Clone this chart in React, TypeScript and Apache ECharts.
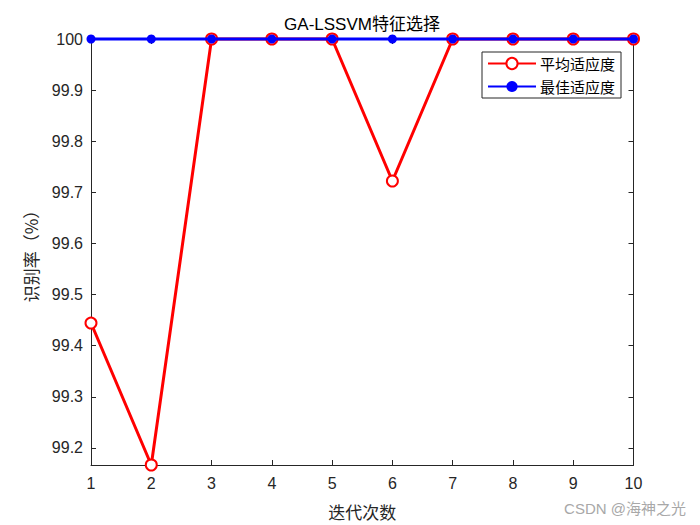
import React, { useEffect, useRef } from "react";
import * as echarts from "echarts";

const iterations = [1, 2, 3, 4, 5, 6, 7, 8, 9, 10];
const avgFitness = [99.4444, 99.1667, 100, 100, 100, 99.7222, 100, 100, 100, 100];
const bestFitness = [100, 100, 100, 100, 100, 100, 100, 100, 100, 100];
const seriesNames = ["平均适应度", "最佳适应度"];
const titleText = "GA-LSSVM特征选择";
const xName = "迭代次数";
const yName = "识别率（%）";
const watermark = "CSDN @海神之光";

const FONT = "'Liberation Sans', Arial, 'Noto Sans CJK SC', sans-serif";
const CJK = "'Noto Sans CJK SC', sans-serif";
const AX = "#262626";

export default function App() {
  const ref = useRef<HTMLDivElement>(null);
  useEffect(() => {
    if (!ref.current) return;
    const chart = echarts.init(ref.current, undefined, { renderer: "svg" });
    const fmtY = (v: number) =>
      Math.abs(v * 10 - Math.round(v * 10)) < 1e-6 ? String(+v.toFixed(1)) : "";
    const yMin = Math.min(...avgFitness, ...bestFitness);
    const yMax = Math.max(...avgFitness, ...bestFitness);
    chart.setOption({
      animation: false,
      backgroundColor: "#ffffff",
      grid: { left: 91, right: 66.5, top: 39, bottom: 58, containLabel: false },
      graphic: [
        {
          type: "text",
          x: 362,
          y: 24,
          style: {
            text: titleText,
            fontSize: 17,
            fontFamily: FONT,
            fill: "#000",
            textAlign: "center",
            textVerticalAlign: "middle",
          },
        },
        {
          type: "text",
          x: 686,
          y: 508,
          style: {
            text: watermark,
            fontSize: 15,
            fontFamily: FONT,
            fill: "#a8a8a8",
            textAlign: "right",
            textVerticalAlign: "middle",
          },
        },
      ],
      legend: {
        orient: "vertical",
        left: 482,
        top: 52,
        backgroundColor: "#fff",
        borderColor: AX,
        borderWidth: 1,
        borderRadius: 0,
        padding: [4, 6, 4, 5],
        itemWidth: 48,
        itemHeight: 14,
        itemGap: 8,
        textStyle: { fontSize: 15, fontFamily: CJK, color: "#000", padding: [0, 0, 0, -1] },
        data: seriesNames,
      },
      xAxis: [
        {
          type: "value",
          min: 1,
          max: 10,
          interval: 1,
          name: xName,
          nameLocation: "middle",
          nameGap: 38,
          nameTextStyle: { fontSize: 17, fontFamily: CJK, color: AX },
          axisLine: { show: true, lineStyle: { color: AX, width: 1 } },
          axisTick: { show: true, inside: true, length: 5, lineStyle: { color: AX } },
          axisLabel: { fontSize: 16, fontFamily: FONT, color: AX, margin: 10 },
          splitLine: { show: false },
        },
        {
          type: "value",
          position: "top",
          min: 1,
          max: 10,
          interval: 1,
          axisLine: { show: true, lineStyle: { color: AX, width: 1 } },
          axisTick: { show: true, inside: true, length: 5, lineStyle: { color: AX } },
          axisLabel: { show: false },
          splitLine: { show: false },
        },
      ],
      yAxis: [
        {
          type: "value",
          min: yMin,
          max: yMax,
          splitNumber: 8,
          minInterval: 0.1,
          maxInterval: 0.1,
          name: yName,
          nameLocation: "middle",
          nameGap: 52,
          nameTextStyle: { fontSize: 17, fontFamily: CJK, color: AX },
          axisLine: { show: true, lineStyle: { color: AX, width: 1 } },
          axisTick: { show: true, inside: true, length: 5, lineStyle: { color: AX } },
          axisLabel: { fontSize: 16, fontFamily: FONT, color: AX, margin: 8, formatter: fmtY },
          splitLine: { show: false },
        },
        {
          type: "value",
          position: "right",
          min: yMin,
          max: yMax,
          splitNumber: 8,
          minInterval: 0.1,
          maxInterval: 0.1,
          axisLine: { show: true, lineStyle: { color: AX, width: 1 } },
          axisTick: { show: true, inside: true, length: 5, lineStyle: { color: AX } },
          axisLabel: { show: false },
          splitLine: { show: false },
        },
      ],
      series: [
        {
          name: seriesNames[0],
          type: "line",
          data: iterations.map((x, i) => [x, avgFitness[i]]),
          symbol: "emptyCircle",
          symbolSize: 11,
          clip: false,
          lineStyle: { color: "#ff0000", width: 3 },
          itemStyle: { color: "#ff0000", borderColor: "#ff0000", borderWidth: 2.5 },
          z: 2,
        },
        {
          name: seriesNames[1],
          type: "line",
          data: iterations.map((x, i) => [x, bestFitness[i]]),
          symbol: "circle",
          symbolSize: 9,
          clip: false,
          lineStyle: { color: "#0000ff", width: 3 },
          itemStyle: { color: "#0000ff" },
          z: 3,
        },
      ],
    });
    return () => chart.dispose();
  }, []);
  return (
    <div
      ref={ref}
      style={{ position: "absolute", left: 0, top: 0, width: 700, height: 525 }}
    />
  );
}
